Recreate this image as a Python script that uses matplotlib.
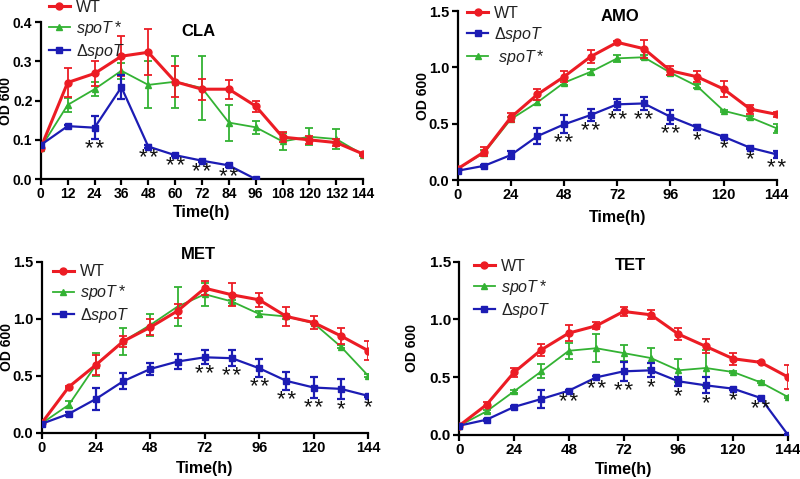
import numpy as np
import matplotlib
matplotlib.use('Agg')
import matplotlib.pyplot as plt
from matplotlib.lines import Line2D

plt.rcParams['font.family'] = ['Liberation Sans', 'DejaVu Sans']
plt.rcParams['mathtext.fontset'] = 'custom'
plt.rcParams['mathtext.it'] = 'Liberation Sans:italic'
plt.rcParams['mathtext.rm'] = 'Liberation Sans'

hours = [0, 12, 24, 36, 48, 60, 72, 84, 96, 108, 120, 132, 144]

# CLA
cla_wt = [0.080, 0.246, 0.269, 0.313, 0.323, 0.248, 0.229, 0.229, 0.186, 0.107, 0.100, 0.093, 0.064]
cla_wt_err = [0.005, 0.036, 0.032, 0.051, 0.058, 0.040, 0.027, 0.024, 0.014, 0.013, 0.011, 0.008, 0.003]
cla_st = [0.080, 0.189, 0.229, 0.276, 0.240, 0.248, 0.232, 0.144, 0.132, 0.096, 0.108, 0.102, 0.062]
cla_st_err = [0.004, 0.018, 0.018, 0.020, 0.060, 0.066, 0.082, 0.046, 0.017, 0.022, 0.022, 0.026, 0.003]
cla_d_hours = [0, 12, 24, 36, 48, 60, 72, 84, 96]
cla_d = [0.087, 0.135, 0.131, 0.234, 0.083, 0.061, 0.047, 0.035, 0.0]
cla_d_err = [0.004, 0.004, 0.030, 0.031, 0.004, 0.003, 0.003, 0.003, 0.002]
cla_stars = {24: '**', 48: '**', 60: '**', 72: '**', 84: '**'}

# AMO
amo_wt = [0.10, 0.25, 0.556, 0.76, 0.917, 1.095, 1.222, 1.166, 0.97, 0.917, 0.808, 0.63, 0.583]
amo_wt_err = [0.01, 0.04, 0.04, 0.05, 0.05, 0.06, 0.015, 0.08, 0.04, 0.05, 0.07, 0.04, 0.02]
amo_st = [0.10, 0.243, 0.54, 0.69, 0.864, 0.96, 1.08, 1.09, 0.953, 0.834, 0.615, 0.556, 0.459]
amo_st_err = [0.01, 0.02, 0.02, 0.02, 0.02, 0.03, 0.03, 0.02, 0.02, 0.02, 0.01, 0.01, 0.04]
amo_d = [0.083, 0.127, 0.222, 0.39, 0.494, 0.577, 0.672, 0.68, 0.562, 0.467, 0.385, 0.287, 0.228]
amo_d_err = [0.01, 0.01, 0.035, 0.07, 0.08, 0.05, 0.05, 0.06, 0.06, 0.02, 0.01, 0.01, 0.03]
amo_stars = {48: '**', 60: '**', 72: '**', 84: '**', 96: '**', 108: '*', 120: '*', 132: '*', 144: '**'}

# MET
met_wt = [0.082, 0.40, 0.594, 0.80, 0.924, 1.067, 1.266, 1.208, 1.164, 1.018, 0.965, 0.848, 0.719]
met_wt_err = [0.01, 0.01, 0.09, 0.05, 0.07, 0.06, 0.06, 0.10, 0.06, 0.08, 0.06, 0.07, 0.08]
met_st = [0.080, 0.243, 0.594, 0.80, 0.944, 1.105, 1.213, 1.149, 1.04, 1.018, 0.96, 0.754, 0.50]
met_st_err = [0.01, 0.03, 0.10, 0.12, 0.10, 0.17, 0.10, 0.01, 0.03, 0.02, 0.01, 0.01, 0.01]
met_d = [0.076, 0.164, 0.295, 0.45, 0.558, 0.623, 0.66, 0.652, 0.564, 0.453, 0.395, 0.383, 0.322]
met_d_err = [0.01, 0.02, 0.10, 0.07, 0.05, 0.07, 0.06, 0.07, 0.08, 0.08, 0.09, 0.09, 0.01]
met_stars = {72: '**', 84: '**', 96: '**', 108: '**', 120: '**', 132: '*', 144: '*'}

# TET
tet_wt = [0.08, 0.262, 0.541, 0.737, 0.881, 0.944, 1.068, 1.039, 0.872, 0.766, 0.659, 0.628, 0.501]
tet_wt_err = [0.01, 0.02, 0.04, 0.05, 0.07, 0.03, 0.04, 0.04, 0.05, 0.06, 0.05, 0.01, 0.10]
tet_st = [0.08, 0.204, 0.377, 0.55, 0.728, 0.75, 0.708, 0.665, 0.559, 0.579, 0.544, 0.455, 0.328]
tet_st_err = [0.01, 0.01, 0.01, 0.06, 0.07, 0.12, 0.07, 0.09, 0.10, 0.16, 0.01, 0.01, 0.01]
tet_d = [0.08, 0.132, 0.242, 0.311, 0.383, 0.498, 0.55, 0.559, 0.464, 0.429, 0.40, 0.32, 0.0]
tet_d_err = [0.01, 0.01, 0.01, 0.08, 0.01, 0.01, 0.08, 0.06, 0.04, 0.07, 0.01, 0.01, 0.01]
tet_stars = {48: '**', 60: '**', 72: '**', 84: '*', 96: '*', 108: '*', 120: '*', 132: '**'}

RED = '#ec1c24'
GREEN = '#33b233'
BLUE = '#1c1cb4'

fig = plt.figure(figsize=(8, 4.79), dpi=100)


def panel(rect, title, title_xy, series, d_x, d_y, d_err, stars, order, ylim, yticks, xticks,
          leg_xy, xlab_y, ylab_x, tick_fs, d_label):
    ax = fig.add_axes(rect)
    wt, wt_err, st, st_err = series
    ax.errorbar(hours, wt, yerr=wt_err, color=RED, marker='o', ms=5, lw=2.2,
                capsize=3, elinewidth=1.3, capthick=1.3, zorder=4)
    ax.errorbar(hours, st, yerr=st_err, color=GREEN, marker='^', ms=5, lw=1.3,
                capsize=3, elinewidth=1.3, capthick=1.3, zorder=3)
    ax.errorbar(d_x, d_y, yerr=d_err, color=BLUE, marker='s', ms=5, lw=1.6,
                capsize=3, elinewidth=1.6, capthick=1.6, zorder=5)
    for t, lab in stars.items():
        i = list(d_x).index(t)
        ax.annotate('\u200a'.join(lab), (t, d_y[i] - d_err[i]), xytext=(0, 0),
                    textcoords='offset points', ha='center', va='top', fontsize=16,
                    color='#111111', zorder=6)
    proxies = {
        'wt': (Line2D([], [], color=RED, marker='o', ms=5, lw=2.2), 'WT'),
        'st': (Line2D([], [], color=GREEN, marker='^', ms=5, lw=1.3), r'$\mathit{spoT*}$'),
        'st2': (Line2D([], [], color=GREEN, marker='^', ms=5, lw=1.3), r'$\ \mathit{spoT*}$'),
        'd': (Line2D([], [], color=BLUE, marker='s', ms=5, lw=1.6), d_label),
    }
    hs = [proxies[k][0] for k in order]
    ls = [proxies[k][1] for k in order]
    leg = ax.legend(hs, ls, loc='upper left', bbox_to_anchor=leg_xy, frameon=False,
                    fontsize=11.5, handlelength=1.3, handletextpad=0.4, labelspacing=0.25,
                    borderpad=0, borderaxespad=0)
    for txt in leg.get_texts():
        txt.set_color('#222222')
    ax.text(title_xy[0], title_xy[1], title, transform=ax.transAxes, ha='center', va='center',
            fontsize=12, fontweight='bold')
    ax.set_xlim(0, 144)
    ax.set_ylim(*ylim)
    ax.set_xticks(xticks)
    ax.set_yticks(yticks)
    ax.set_yticklabels(['%.1f' % v for v in yticks])
    for s in ['top', 'right']:
        ax.spines[s].set_visible(False)
    for s in ['left', 'bottom']:
        ax.spines[s].set_linewidth(1.6)
    ax.tick_params(direction='out', width=1.6, length=4, labelsize=tick_fs, pad=2)
    for lab in ax.get_xticklabels() + ax.get_yticklabels():
        lab.set_fontweight('bold')
    ax.set_xlabel('Time(h)', fontsize=11.5, fontweight='bold', va='center')
    ax.xaxis.set_label_coords(0.5, xlab_y)
    ax.set_ylabel('OD 600', fontsize=10, fontweight='bold', va='center')
    ax.yaxis.set_label_coords(ylab_x, 0.5)
    return ax


panel([0.051, 0.626, 0.403, 0.328], 'CLA', (0.49, 0.94), (cla_wt, cla_wt_err, cla_st, cla_st_err),
      cla_d_hours, cla_d, cla_d_err, cla_stars, ['wt', 'st', 'd'], (0, 0.4),
      [0.0, 0.1, 0.2, 0.3, 0.4], list(range(0, 145, 12)), (0.025, 1.14), -0.21, -0.109, 10,
      r'$\Delta\mathit{spoT}$')
panel([0.572, 0.624, 0.399, 0.353], 'AMO', (0.51, 0.97), (amo_wt, amo_wt_err, amo_st, amo_st_err),
      hours, amo_d, amo_d_err, amo_stars, ['wt', 'd', 'st2'], (0, 1.5),
      [0.0, 0.5, 1.0, 1.5], list(range(0, 145, 24)), (0.03, 1.03), -0.22, -0.109, 10.5,
      r'$\Delta\mathit{spoT}$')
panel([0.052, 0.097, 0.408, 0.357], 'MET', (0.48, 1.04), (met_wt, met_wt_err, met_st, met_st_err),
      hours, met_d, met_d_err, met_stars, ['wt', 'st', 'd'], (0, 1.5),
      [0.0, 0.5, 1.0, 1.5], list(range(0, 145, 24)), (0.035, 0.985), -0.212, -0.106, 10.5,
      r'$\mathit{\Delta spoT}$')
panel([0.574, 0.092, 0.411, 0.362], 'TET', (0.52, 0.98), (tet_wt, tet_wt_err, tet_st, tet_st_err),
      hours, tet_d, tet_d_err, tet_stars, ['wt', 'st', 'd'], (0, 1.5),
      [0.0, 0.5, 1.0, 1.5], list(range(0, 145, 24)), (0.045, 1.015), -0.2, -0.143, 11,
      r'$\Delta\mathit{spoT}$')

fig.savefig('out.png', dpi=100)
